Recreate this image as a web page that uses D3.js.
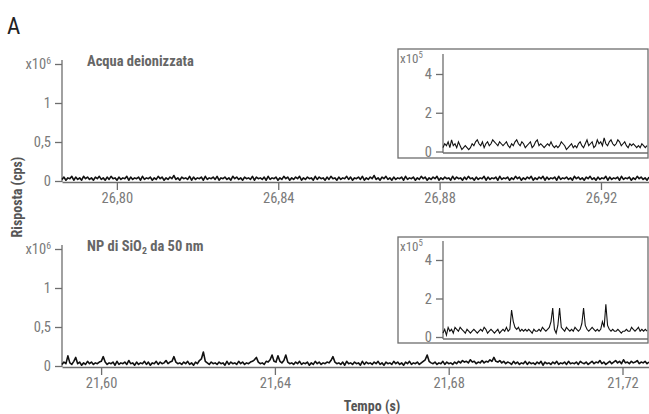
<!DOCTYPE html>
<html><head><meta charset="utf-8">
<script src="https://cdn.jsdelivr.net/npm/d3@7"></script>
<style>
body{margin:0;background:#fff}
svg{display:block}
text{font-family:'Liberation Sans Narrow','Roboto Condensed','DejaVu Sans Condensed',sans-serif}
</style>
</head><body>
<svg id="c" width="649" height="414"></svg>
<script>
// ---- data (signal values in units of 1e4 cps) ----
const topTimeRange = [26.7864, 26.9319];
const botTimeRange = [21.591, 21.7261];
const topTicks = [26.80, 26.84, 26.88, 26.92];
const botTicks = [21.60, 21.64, 21.68, 21.72];
const yMainTicks = [0, 0.5e6, 1e6, 1.5e6];
const yMainLabels = ["0", "0,5", "1", "x10|6"];
const yInsetTicks = [0, 2e5, 4e5];
const yInsetLabels = ["0", "2", "4"];
const titles = ["Acqua deionizzata", "NP di SiO|2| da 50 nm"];
const yLabel = "Risposta (cps)";
const xLabel = "Tempo (s)";

const topMain = [2,5,1,4,3,6,1,5,2,4,1,6,3,5,2,4,1,5,3,6,
 2,4,1,5,2,6,3,4,1,5,2,4,3,6,1,5,2,4,3,5,
 1,6,2,4,3,5,1,4,2,6,3,5,1,4,2,5,3,7,2,4,
 1,5,3,4,2,6,1,5,2,4,3,5,1,6,2,4,3,5,2,6,
 1,4,3,5,2,4,1,6,3,5,2,4,1,5,3,4,2,6,1,5,
 3,4,2,5,1,6,2,4,3,5,1,4,2,6,3,5,1,4,2,5,
 3,6,1,4,2,5,3,4,1,6,2,5,3,4,1,5,2,6,3,4,
 1,5,2,4,3,6,2,5,1,4,3,5,2,6,1,4,2,5,3,7,
 2,4,1,5,3,6,2,4,1,5,2,4,3,5,1,6,2,4,3,5,
 1,4,2,6,3,5,1,4,2,5,3,6,1,4,2,5,3,4,1,6,
 2,5,3,4,1,5,2,6,3,4,1,5,2,4,3,6,1,5,2,4,
 3,5,1,6,2,4,3,5,1,4,2,6,3,5,1,4,2,5,3,6,
 1,4,2,5,3,6,1,5,2,4,3,5,1,6,2,4,3,5,2,4,
 1,6,3,5,2,4,1,5,3,6,2,4,1,5,2,4,3,6,1,5,
 2,4,3,5,1,6,2,4,3,5,1,4,2,6,3,5,2,4,1,5];
const botMain = [2,5,3,13,4,2,6,11,3,5,1,4,2,6,3,5,2,4,3,5,
 6,12,5,2,4,3,5,1,6,2,4,3,5,2,7,3,4,1,5,2,
 4,3,6,2,5,1,4,3,6,2,5,3,4,7,3,5,6,12,5,3,
 4,2,5,3,6,2,4,1,5,3,7,9,18,6,4,2,5,3,4,2,
 5,3,4,1,6,2,5,3,4,2,6,3,5,2,4,3,5,6,8,11,
 5,3,4,2,6,5,8,14,6,5,13,6,4,7,14,5,3,4,2,5,
 3,6,2,4,3,5,1,4,2,6,3,5,2,4,3,5,4,7,12,5,
 3,4,2,5,1,6,3,4,2,5,3,4,1,6,2,5,3,4,2,5,
 3,6,2,4,1,5,3,4,2,6,3,5,2,4,1,5,3,6,2,4,
 3,5,2,4,6,8,14,6,4,3,5,2,4,3,6,2,5,3,4,2,
 5,3,6,4,7,5,6,4,8,5,6,3,5,4,7,4,6,5,8,6,
 11,6,5,7,4,6,3,5,4,2,6,3,5,2,4,3,6,2,5,3,
 4,2,5,3,6,1,5,3,4,2,5,3,6,2,4,3,5,2,6,3,
 4,3,5,2,6,4,3,5,2,4,6,3,5,4,7,3,5,2,4,6,
 3,5,7,4,6,3,8,4,5,3,6,4,5,7,3,5,4,6,3,5];
const topInset = [2,4,3,5,2,6,3,4,2,5,3,1,2,3,2,1,2,4,3,5,
 6,4,3,5,2,4,5,3,4,6,5,4,3,5,4,3,4,5,3,2,
 4,3,5,6,4,3,5,4,2,3,4,5,2,3,5,6,3,4,3,2,
 3,4,3,5,3,2,3,2,3,5,4,3,1,2,3,4,2,3,2,4,
 5,3,2,4,6,3,4,5,2,3,6,4,5,3,7,4,3,5,6,4,
 3,4,6,5,3,4,5,3,2,4,3,4,3,2,3,2,4,3,2,3];
const botInset = [2,4,1,5,3,4,2,5,4,3,5,4,3,2,4,3,2,3,4,3,
 2,3,4,3,5,4,2,3,4,3,2,3,4,2,3,4,3,5,3,4,
 14,8,5,4,5,3,4,3,4,3,4,3,2,4,3,3,4,3,5,4,
 3,4,5,8,15,4,2,6,15,5,4,3,5,4,3,4,3,5,4,3,
 4,7,15,6,4,3,4,5,4,3,4,3,4,8,5,17,6,4,3,4,
 3,3,4,3,2,3,3,4,3,3,5,4,3,4,5,3,4,3,4,3];

const UNIT = 1e4;
const AX = "#6e6e6e", LBL = "#7a7a7a", TTL = "#666";
const FONT = "'Liberation Sans Narrow','Roboto Condensed',sans-serif";

const svg = d3.select("#c");

svg.append("text").attr("x", 7).attr("y", 34).attr("font-size", 23).attr("fill", "#222")
  .style("font-family", FONT).text("A");

function richText(sel, str, supSub) {
  const parts = str.split("|");
  sel.text(null);
  sel.append("tspan").text(parts[0]);
  if (parts.length > 1) {
    const dy = supSub === "sup" ? -5 : 3;
    sel.append("tspan").attr("dy", dy).attr("font-size", "0.68em").text(parts[1]);
    if (parts.length > 2) sel.append("tspan").attr("dy", -dy).text(parts[2]);
  }
}

const panels = [
  {timeRange: topTimeRange, ticks: topTicks, data: topMain, y0: 181, y15: 64, base: 182, title: titles[0], titleY: 66,
   inset: {data: topInset, box: [398, 49, 250, 109], y0: 151.5, y4: 74, axTop: 54, base: 153}},
  {timeRange: botTimeRange, ticks: botTicks, data: botMain, y0: 366, y15: 249, base: 367, title: titles[1], titleY: 251,
   inset: {data: botInset, box: [398, 237, 250, 106], y0: 337, y4: 260, axTop: 241, base: 339}}
];

panels.forEach(p => {
  const g = svg.append("g");
  const x = d3.scaleLinear().domain(p.timeRange).range([62, 649]);
  const y = d3.scaleLinear().domain([0, 1.5e6]).range([p.y0, p.y15]);
  const n = p.data.length;
  const dt = (p.timeRange[1] - p.timeRange[0]) / (n - 1);
  const pts = p.data.map((v, i) => [p.timeRange[0] + i * dt, v * UNIT]);

  const xa = g.append("g").attr("transform", `translate(0,${p.base})`)
    .call(d3.axisBottom(x).tickValues(p.ticks).tickSize(8).tickSizeOuter(0).tickPadding(3)
      .tickFormat(d => d.toFixed(2).replace(".", ",")));
  xa.select(".domain").attr("stroke", AX).attr("stroke-width", 1.3);
  xa.selectAll(".tick line").attr("stroke", AX).attr("stroke-width", 1.3);
  xa.selectAll(".tick text").attr("fill", LBL).attr("font-size", 14.5).style("font-family", FONT);

  const ya = g.append("g").attr("transform", "translate(62,0)")
    .call(d3.axisLeft(y).tickValues(yMainTicks).tickSize(7).tickPadding(4)
      .tickFormat((d, i) => yMainLabels[i]));
  ya.select(".domain").remove();
  ya.selectAll(".tick line").attr("stroke", AX).attr("stroke-width", 1.3);
  ya.selectAll(".tick text").attr("fill", LBL).attr("font-size", 14.5).style("font-family", FONT)
    .each(function(d, i) { if (yMainLabels[i].includes("|")) richText(d3.select(this), yMainLabels[i], "sup"); });
  g.append("line").attr("x1", 62).attr("x2", 62).attr("y1", p.y15 - 4).attr("y2", p.base)
    .attr("stroke", AX).attr("stroke-width", 1.3);

  g.append("path").datum(pts).attr("fill", "none").attr("stroke", "#111").attr("stroke-width", 1.6)
    .attr("stroke-linejoin", "round")
    .attr("d", d3.line().x(d => x(d[0])).y(d => y(d[1])));

  const t = g.append("text").attr("x", 87).attr("y", p.titleY).attr("fill", TTL)
    .attr("font-size", 14.5).attr("font-weight", "bold");
  richText(t, p.title, "sub");

  const I = p.inset;
  const [bx, by, bw, bh] = I.box;
  g.append("rect").attr("x", bx).attr("y", by).attr("width", bw).attr("height", bh)
    .attr("fill", "#fff").attr("stroke", AX).attr("stroke-width", 1.3);
  const ix = d3.scaleLinear().domain([0, I.data.length - 1]).range([443, 647]);
  const iy = d3.scaleLinear().domain([0, 4e5]).range([I.y0, I.y4]);
  const iya = g.append("g").attr("transform", "translate(443,0)")
    .call(d3.axisLeft(iy).tickValues(yInsetTicks).tickSize(7).tickPadding(4)
      .tickFormat((d, i) => yInsetLabels[i]));
  iya.select(".domain").remove();
  iya.selectAll(".tick line").attr("stroke", AX).attr("stroke-width", 1.3);
  iya.selectAll(".tick text").attr("fill", LBL).attr("font-size", 14.5).style("font-family", FONT);
  g.append("line").attr("x1", 443).attr("x2", 443).attr("y1", I.axTop).attr("y2", I.base)
    .attr("stroke", AX).attr("stroke-width", 1.3);
  g.append("line").attr("x1", 443).attr("x2", 648).attr("y1", I.base).attr("y2", I.base)
    .attr("stroke", AX).attr("stroke-width", 1.3);
  const xt = g.append("text").attr("x", 400).attr("y", by + 14).attr("fill", LBL).attr("font-size", 13);
  richText(xt, "x10|5", "sup");
  g.append("path").datum(I.data).attr("fill", "none").attr("stroke", "#111").attr("stroke-width", 1.1)
    .attr("d", d3.line().x((d, i) => ix(i)).y(d => iy(d * UNIT)));
});

svg.append("text").attr("transform", "translate(22,197) rotate(-90)").attr("text-anchor", "middle")
  .attr("fill", "#555").attr("font-size", 14).attr("font-weight", "bold").text(yLabel);
svg.append("text").attr("x", 372).attr("y", 411).attr("text-anchor", "middle")
  .attr("fill", "#555").attr("font-size", 14).attr("font-weight", "bold").text(xLabel);
</script>
</body></html>
